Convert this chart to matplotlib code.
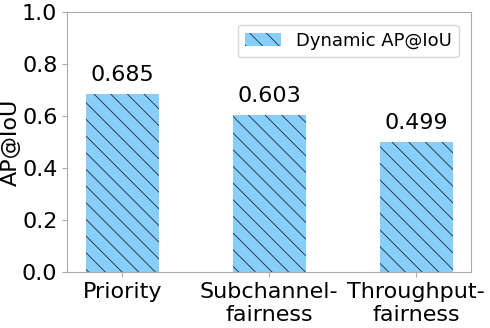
import matplotlib.pyplot as plt
import numpy as np

schemes = ["Priority", "Subchannel-\nfairness", "Throughput-\nfairness"]
ap_iou = [0.685, 0.603, 0.499]

plt.rcParams['hatch.linewidth'] = 0.6
plt.rcParams['hatch.color'] = '#1a2a3a'

fig, ax = plt.subplots(figsize=(4.9, 3.28), dpi=100)
x = np.arange(len(schemes))
bars = ax.bar(x, ap_iou, width=0.5, color='#87CEFA', hatch='\\\\', label='Dynamic AP@IoU')

for b, v in zip(bars, ap_iou):
    ax.text(b.get_x() + b.get_width() / 2, v + 0.035, "%.3f" % v,
            ha='center', va='bottom', fontsize=16)

ax.set_ylim(0, 1.0)
ax.set_yticks(np.arange(0, 1.01, 0.2))
ax.set_xticks(x)
ax.set_xticklabels(schemes, fontsize=16)
ax.tick_params(axis='y', labelsize=16)
ax.set_ylabel("AP@IoU", fontsize=16, labelpad=1)
for s in ax.spines.values():
    s.set_color('#aaaaaa')
ax.tick_params(color='#aaaaaa')
ax.legend(loc='upper right', fontsize=13, borderaxespad=0.7)

plt.subplots_adjust(left=0.137, right=0.962, top=0.963, bottom=0.17)
plt.savefig("out.png", dpi=100)
